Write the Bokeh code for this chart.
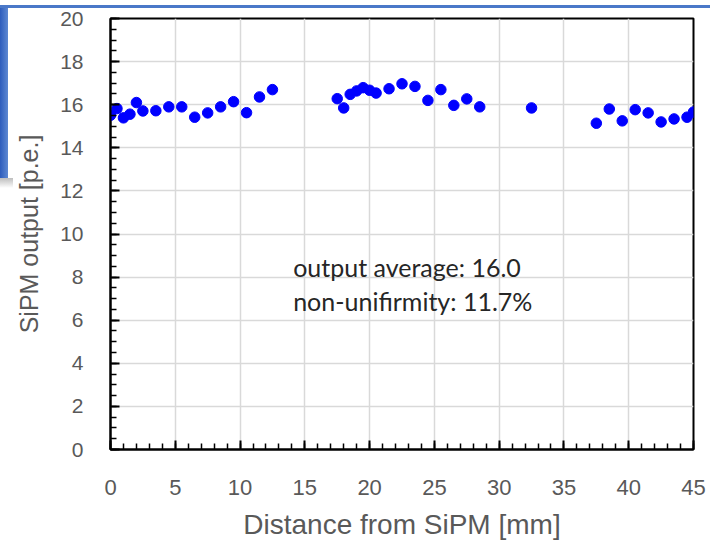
from bokeh.plotting import figure
from bokeh.models import Range1d, SingleIntervalTicker, Label, ColumnDataSource
from bokeh.embed import file_html
from bokeh.resources import INLINE

# Data
distance_mm = [0, 0.5, 1, 1.5, 2, 2.5, 3.5, 4.5, 5.5, 6.5, 7.5, 8.5, 9.5, 10.5, 11.5, 12.5,
               17.5, 18, 18.5, 19, 19.5, 20, 20.5, 21.5, 22.5, 23.5, 24.5, 25.5, 26.5, 27.5, 28.5,
               32.5,
               37.5, 38.5, 39.5, 40.5, 41.5, 42.5, 43.5, 44.5, 45]
output_pe = [15.51, 15.82, 15.39, 15.56, 16.10, 15.71, 15.72, 15.90, 15.90, 15.42, 15.62, 15.90, 16.14, 15.63, 16.36, 16.70,
             16.28, 15.85, 16.48, 16.64, 16.79, 16.67, 16.54, 16.74, 16.97, 16.85, 16.20, 16.70, 15.97, 16.27, 15.90,
             15.85,
             15.14, 15.80, 15.25, 15.77, 15.62, 15.20, 15.34, 15.42, 15.66]
annotation_lines = ["output average: 16.0", "non-unifirmity: 11.7%"]
x_title = "Distance from SiPM [mm]"
y_title = "SiPM output [p.e.]"

src = ColumnDataSource(data=dict(x=distance_mm, y=output_pe))

p = figure(width=710, height=542, output_backend="svg", toolbar_location=None,
           x_range=Range1d(0, 45), y_range=Range1d(0, 20),
           min_border_left=110, min_border_right=17, min_border_top=18, min_border_bottom=92)

p.scatter("x", "y", source=src, size=10.5, color="#0000ff", line_color="#0000ff")

p.outline_line_color = "black"
p.outline_line_width = 2
p.background_fill_color = "white"
p.border_fill_alpha = 0

# axes
p.xaxis.ticker = SingleIntervalTicker(interval=5, num_minor_ticks=5)
p.yaxis.ticker = SingleIntervalTicker(interval=2, num_minor_ticks=4)
for ax in (p.xaxis[0], p.yaxis[0]):
    ax.axis_line_color = "black"
    ax.axis_line_width = 2
    ax.major_tick_line_color = "black"
    ax.minor_tick_line_color = "black"
    ax.major_tick_line_width = 2
    ax.minor_tick_line_width = 1.5
    ax.major_tick_in = 9
    ax.major_tick_out = 0
    ax.minor_tick_in = 6
    ax.minor_tick_out = 0
    ax.major_label_text_color = "#595959"
    ax.axis_label_text_color = "#595959"
    ax.axis_label_text_font_style = "normal"
    ax.axis_label_text_font = "Liberation Sans"
    ax.major_label_text_font = "Liberation Sans"

p.xaxis.axis_label = x_title
p.yaxis.axis_label = y_title
p.xaxis.major_label_text_font_size = "22px"
p.yaxis.major_label_text_font_size = "21px"
p.xaxis.axis_label_text_font_size = "28px"
p.yaxis.axis_label_text_font_size = "25px"
p.xaxis.major_label_standoff = 30
p.yaxis.major_label_standoff = 27
p.xaxis.axis_label_standoff = 11
p.yaxis.axis_label_standoff = 14

p.xgrid.grid_line_color = "#d9d9d9"
p.ygrid.grid_line_color = "#d9d9d9"
p.xgrid.grid_line_width = 1.5
p.ygrid.grid_line_width = 1.5

for txt, yy in zip(annotation_lines, [8.49, 6.9]):
    p.add_layout(Label(x=14.1, y=yy, text=txt, text_font="Lato", text_font_size="25px",
                       text_color="#262626", text_baseline="alphabetic", text_align="left"))

# slide decoration behind the chart (top band, left strip and its shadow)
p.styles = {
    "background-color": "white",
    "background-image": "linear-gradient(#4a78c8,#4a78c8), linear-gradient(to right,#2d5cbc,#5d88d2), linear-gradient(#bdbdbd,#ffffff)",
    "background-size": "100% 3px, 8px 170px, 13px 10px",
    "background-position": "0 5px, 0 8px, 0 178px",
    "background-repeat": "no-repeat",
}

open("out.html", "w").write(file_html(p, INLINE))
